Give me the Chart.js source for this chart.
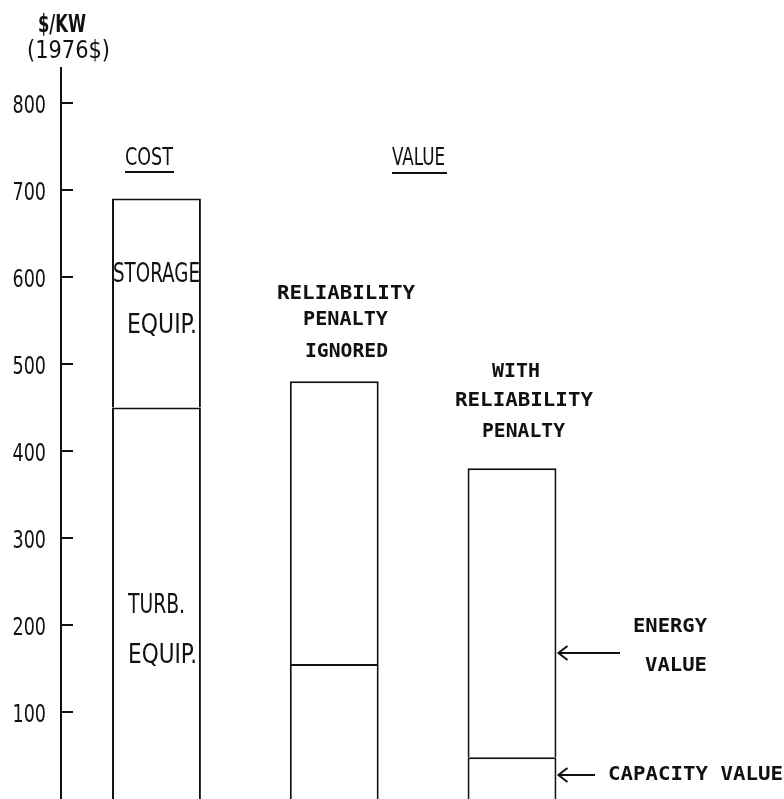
<!DOCTYPE html>
<html>
<head>
<meta charset="utf-8">
<script src="https://cdn.jsdelivr.net/npm/chart.js@4.4.0/dist/chart.umd.min.js"></script>
<style>
  html, body { margin: 0; padding: 0; background: #fff; }
  #wrap { position: relative; width: 784px; height: 799px; }
</style>
</head>
<body>
<div id="wrap"><canvas id="chart"></canvas></div>
<script>
// Bars: cost, value (penalty ignored), value (with penalty)
const barNames = ['COST', 'RELIABILITY PENALTY IGNORED', 'WITH RELIABILITY PENALTY'];
const barPositions = [0, 1, 2];
// $/kW in 1976 dollars
const lowerValues = [450, 155, 48];   // turbine equip. / capacity value
const upperValues = [240, 325, 332];  // storage equip. / energy value
const yTicks = [100, 200, 300, 400, 500, 600, 700, 800];

const NARROW = '"Liberation Sans Narrow", "DejaVu Sans Condensed", sans-serif';
const MONO = '"DejaVu Sans Mono", "Liberation Mono", monospace';
const INK = '#111';

// text, left, right, baseline, font
const labels = [
    ['$/KW', 38, 86, 32, 'bold 25px ' + NARROW],
    ['(1976$)', 27, 110, 58, '25px ' + NARROW],
    ['COST', 125, 173, 165, '25px ' + NARROW],
    ['VALUE', 392, 445, 165, '25px ' + NARROW],
    ['STORAGE', 113, 200, 282, '26px ' + NARROW],
    ['EQUIP.', 127, 197, 333, '26px ' + NARROW],
    ['TURB.', 128, 185, 613, '26px ' + NARROW],
    ['EQUIP.', 128, 197, 663, '26px ' + NARROW],
    ['RELIABILITY', 277, 415, 299, 'bold 20px ' + MONO],
    ['PENALTY', 303, 388, 325, 'bold 20px ' + MONO],
    ['IGNORED', 305, 388, 357, 'bold 20px ' + MONO],
    ['WITH', 492, 540, 377, 'bold 20px ' + MONO],
    ['RELIABILITY', 455, 593, 406, 'bold 20px ' + MONO],
    ['PENALTY', 482, 565, 437, 'bold 20px ' + MONO],
    ['ENERGY', 633, 707, 632, 'bold 19px ' + MONO],
    ['VALUE', 645, 707, 671, 'bold 19px ' + MONO],
    ['CAPACITY VALUE', 608, 783, 780, 'bold 20px ' + MONO]
];

// underlines under the group headings: x1, x2, y
const underlines = [[125, 174, 172], [392, 447, 173]];
// arrows pointing at the last bar: tail x, y
const arrows = [[620, 653], [595, 775]];

function fitText(ctx, text, left, right, base, font) {
    ctx.font = font;
    const w = ctx.measureText(text).width;
    ctx.save();
    ctx.translate(left, base);
    ctx.scale((right - left) / w, 1);
    ctx.textAlign = 'left';
    ctx.textBaseline = 'alphabetic';
    ctx.fillText(text, 0, 0);
    ctx.restore();
}

const decorations = {
    id: 'decorations',
    afterDraw(chart) {
        const ctx = chart.ctx;
        const y = chart.scales.y;
        const left = chart.chartArea.left;
        ctx.save();
        ctx.strokeStyle = INK;
        ctx.fillStyle = INK;
        ctx.lineWidth = 2;

        // inward tick marks and condensed tick labels on the value axis
        y.ticks.forEach(t => {
            const py = Math.round(y.getPixelForValue(t.value));
            ctx.beginPath();
            ctx.moveTo(left, py);
            ctx.lineTo(left + 12, py);
            ctx.stroke();

            ctx.save();
            ctx.font = '25px ' + NARROW;
            ctx.textAlign = 'right';
            ctx.textBaseline = 'alphabetic';
            ctx.translate(left - 15, py + 10);
            ctx.scale(0.78, 1);
            ctx.fillText(String(t.value), 0, 0);
            ctx.restore();
        });

        labels.forEach(l => fitText(ctx, ...l));

        underlines.forEach(([x1, x2, uy]) => {
            ctx.beginPath();
            ctx.moveTo(x1, uy);
            ctx.lineTo(x2, uy);
            ctx.stroke();
        });

        // arrow tips sit on the right edge of the last bar
        const last = chart.getDatasetMeta(0).data[2];
        const tip = last.x + last.width / 2 + 2;
        arrows.forEach(([tail, ay]) => {
            ctx.beginPath();
            ctx.moveTo(tail, ay);
            ctx.lineTo(tip, ay);
            ctx.moveTo(tip + 9, ay - 7);
            ctx.lineTo(tip, ay);
            ctx.lineTo(tip + 9, ay + 7);
            ctx.stroke();
        });
        ctx.restore();
    }
};

const barStyle = {
    backgroundColor: '#fff',
    borderColor: INK,
    borderWidth: 2,
    barPercentage: 0.5,
    categoryPercentage: 1
};

new Chart(document.getElementById('chart'), {
    type: 'bar',
    data: {
        datasets: [
            Object.assign({ label: 'lower', data: barPositions.map((x, i) => ({ x, y: lowerValues[i] })) }, barStyle),
            Object.assign({ label: 'upper', data: barPositions.map((x, i) => ({ x, y: upperValues[i] })) }, barStyle)
        ]
    },
    options: {
        responsive: true,
        maintainAspectRatio: false,
        animation: false,
        layout: { padding: { top: 68, right: 0, bottom: 0, left: 0 } },
        plugins: {
            legend: { display: false },
            tooltip: { enabled: false }
        },
        scales: {
            x: {
                type: 'linear',
                stacked: true,
                offset: false,
                min: -0.537,
                max: 3.53,
                afterBuildTicks: s => { s.ticks = barPositions.map(v => ({ value: v })); },
                grid: { offset: false },
                display: false
            },
            y: {
                stacked: true,
                min: 0,
                max: 840,
                afterBuildTicks: s => { s.ticks = yTicks.map(v => ({ value: v })); },
                afterFit: s => {
                    s.width = 61;
                    s.paddingTop = 0;
                    s.paddingBottom = 0;
                },
                border: { display: true, color: INK, width: 2 },
                grid: { display: false, drawTicks: false },
                ticks: { display: false }
            }
        }
    },
    plugins: [decorations]
});
</script>
</body>
</html>
